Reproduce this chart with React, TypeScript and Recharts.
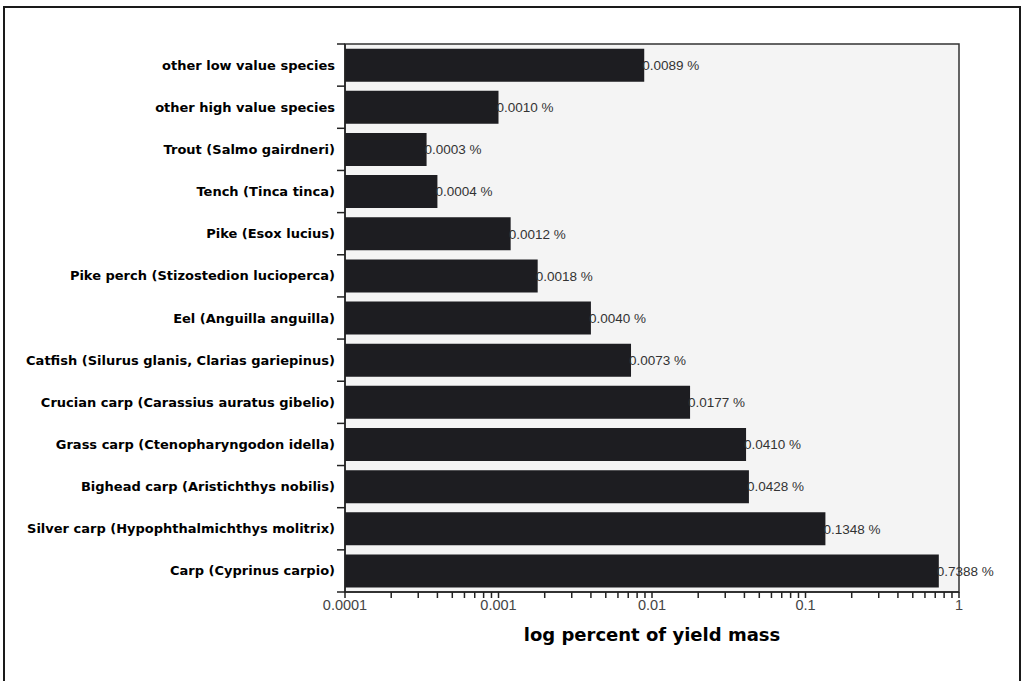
import { BarChart, Bar, XAxis, YAxis, ReferenceArea, LabelList } from "recharts"

const species = [
  "other low value species",
  "other high value species",
  "Trout (Salmo gairdneri)",
  "Tench (Tinca tinca)",
  "Pike (Esox lucius)",
  "Pike perch (Stizostedion lucioperca)",
  "Eel (Anguilla anguilla)",
  "Catfish (Silurus glanis, Clarias gariepinus)",
  "Crucian carp (Carassius auratus gibelio)",
  "Grass carp (Ctenopharyngodon idella)",
  "Bighead carp (Aristichthys nobilis)",
  "Silver carp (Hypophthalmichthys molitrix)",
  "Carp (Cyprinus carpio)",
]

const yieldShare = [0.0089, 0.001, 0.00034, 0.0004, 0.0012, 0.0018, 0.004, 0.0073, 0.0177, 0.041, 0.0428, 0.1348, 0.7388]

const decades = [0.0001, 0.001, 0.01, 0.1, 1]
const multiples = [1, 2, 3, 4, 5, 6, 7, 8, 9]

const data = species.map((name, i) => ({ name, share: yieldShare[i] }))

const logTicks = decades.flatMap((d, i) =>
  i === decades.length - 1 ? [d] : multiples.map((m) => Number((m * d).toPrecision(1)))
)

const W = 1022
const H = 681
const TOP = 44
const AXIS_X = 345
const X_AXIS_H = 49
const MARGIN_BOTTOM = 40
const BAND = (H - TOP - X_AXIS_H - MARGIN_BOTTOM) / species.length

const font = "'Liberation Sans', Arial, sans-serif"
const boldFont = "'DejaVu Sans', 'Liberation Sans', Arial, sans-serif"

function SpeciesTick(props: any) {
  const { x, y, payload, index } = props
  const top = y - BAND / 2
  return (
    <g>
      <line x1={AXIS_X - 8} x2={AXIS_X} y1={top} y2={top} stroke="#222" strokeWidth={1.5} />
      {index === species.length - 1 && (
        <line x1={AXIS_X - 8} x2={AXIS_X} y1={y + BAND / 2} y2={y + BAND / 2} stroke="#222" strokeWidth={1.5} />
      )}
      <text x={x} y={y} dy={4.5} textAnchor="end" fontFamily={boldFont} fontWeight="bold" fontSize={13} fill="#000">
        {payload.value}
      </text>
    </g>
  )
}

export default function App() {
  return (
    <div style={{ position: "absolute", left: 0, top: 0, width: W, height: H, overflow: "hidden", background: "#fff" }}>
      <div
        style={{
          position: "absolute",
          left: 3,
          top: 6,
          width: 1014,
          height: 700,
          border: "2px solid #1a1a1a",
        }}
      />
      <BarChart
        width={W}
        height={H}
        data={data}
        layout="vertical"
        margin={{ top: TOP, right: W - 959, left: 0, bottom: MARGIN_BOTTOM }}
        barCategoryGap="11%"
      >
        <XAxis
          type="number"
          dataKey="share"
          scale="log"
          domain={[0.0001, 1]}
          allowDataOverflow
          ticks={logTicks}
          interval={0}
          tickFormatter={(v: number) => (decades.includes(v) ? String(v) : "")}
          tickSize={6}
          tickLine={{ stroke: "#222", strokeWidth: 1.5 }}
          axisLine={{ stroke: "#222", strokeWidth: 1.5 }}
          tick={{ fontFamily: font, fontSize: 14.5, fill: "#444" }}
          height={X_AXIS_H}
          label={{
            value: "log percent of yield mass",
            position: "insideBottom",
            offset: 0,
            fontFamily: boldFont,
            fontWeight: "bold",
            fontSize: 18,
            fill: "#000",
          }}
        />
        <YAxis
          type="category"
          dataKey="name"
          width={AXIS_X}
          tickLine={false}
          tickSize={8}
          tickMargin={2}
          axisLine={{ stroke: "#222", strokeWidth: 1.5 }}
          interval={0}
          tick={SpeciesTick}
        />
        <ReferenceArea x1={0.0001} x2={1} fill="#f4f4f4" fillOpacity={1} stroke="#333" strokeWidth={1.5} />
        <Bar dataKey="share" fill="#1d1d21" isAnimationActive={false}>
          <LabelList
            dataKey="share"
            position="right"
            offset={-2}
            formatter={(v: any) => `${Number(v).toFixed(4)} %`}
            style={{ fontFamily: font, fontSize: 13.5, fill: "#333" }}
          />
        </Bar>
      </BarChart>
    </div>
  )
}
